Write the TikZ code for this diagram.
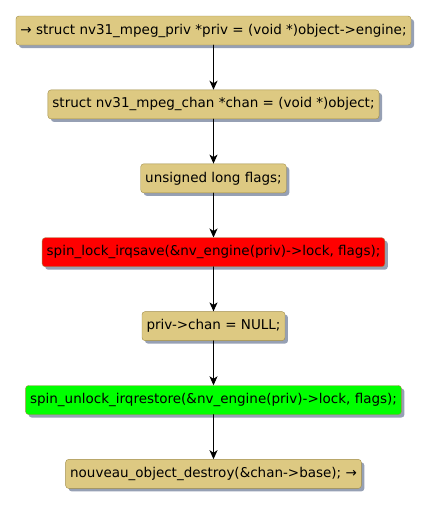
\documentclass[tikz,border=0pt]{standalone}
\usepackage{fontspec}
\setmainfont{DejaVu Sans}
\usetikzlibrary{positioning,shadows,arrows.meta}
\definecolor{boxfill}{RGB}{221,201,130}
\definecolor{boxline}{RGB}{160,140,70}
\definecolor{shade}{RGB}{150,160,180}
\tikzset{
	act/.style={draw=boxline, fill=boxfill, rounded corners=3pt, minimum height=29pt,
		inner xsep=4.5pt, inner ysep=0pt, font=\fontsize{13.5}{15}\selectfont,
		drop shadow={shadow xshift=3pt, shadow yshift=-3pt, fill=shade, opacity=1}},
	lock/.style={act, fill=red},
	unlock/.style={act, fill=green},
	flow/.style={-{Stealth[length=9pt, width=8pt, inset=2.5pt]}, line width=1pt}
}
\begin{document}
\begin{tikzpicture}[x=1pt, y=1pt, node distance=44.5pt, line join=round, line cap=round]
	\useasboundingbox (0,0) rectangle (431,-507);
	\node[act] (priv) at (213.5,-30.5) {→ struct nv31\_mpeg\_priv *priv = (void *)object->engine;};
	\node[act, below=of priv] (chan) {struct nv31\_mpeg\_chan *chan = (void *)object;};
	\node[act, below=of chan] (flags) {unsigned long flags;};
	\node[lock, below=of flags] (lk) {spin\_lock\_irqsave(\&nv\_engine(priv)->lock, flags);};
	\node[act, below=of lk] (null) {priv->chan = NULL;};
	\node[unlock, below=of null] (ulk) {spin\_unlock\_irqrestore(\&nv\_engine(priv)->lock, flags);};
	\node[act, below=of ulk] (dest) {nouveau\_object\_destroy(\&chan->base); →};
	% arrows
	\foreach \a/\b in {priv/chan, chan/flags, flags/lk, lk/null, null/ulk, ulk/dest}
		\draw[flow] (\a) -- (\b);
\end{tikzpicture}
\end{document}
